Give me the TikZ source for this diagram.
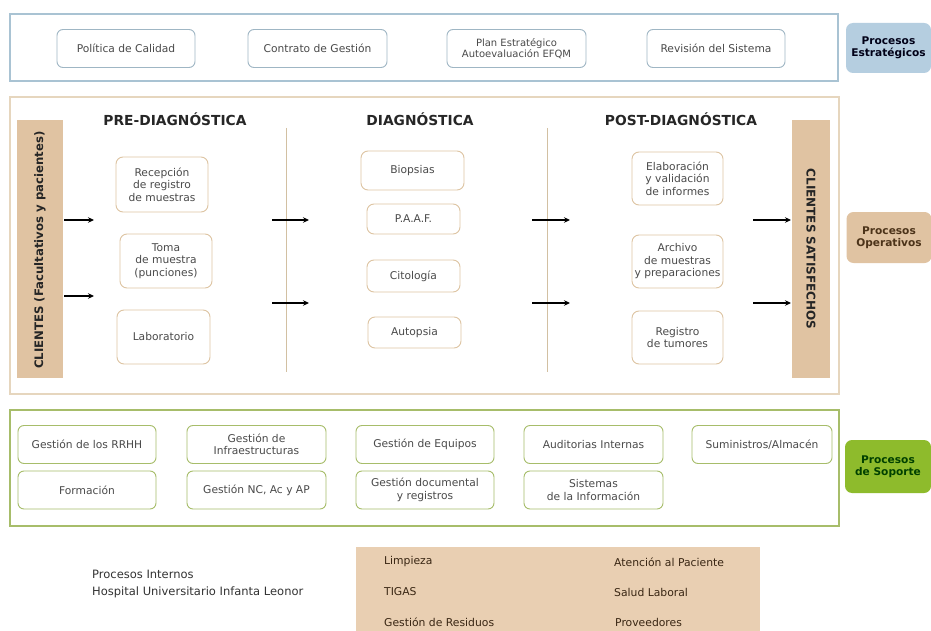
\documentclass[tikz,border=0pt]{standalone}
\usepackage{fontspec}
\setmainfont{DejaVu Sans}
\usetikzlibrary{arrows.meta}
\definecolor{txt}{HTML}{4A4A4A}
\definecolor{topln}{HTML}{A9C3D3}
\definecolor{tboxln}{HTML}{9FB6C4}
\definecolor{opln}{HTML}{E6D6BE}
\definecolor{oboxln}{HTML}{DDC4A2}
\definecolor{supln}{HTML}{A7BD6A}
\definecolor{tan}{HTML}{E0C3A2}
\definecolor{tanlt}{HTML}{E9CFB2}
\definecolor{bluebadge}{HTML}{B5CEE0}
\definecolor{greenbadge}{HTML}{8EBB2C}
\definecolor{sepln}{HTML}{D2C0A2}
\tikzset{
  base/.style={font=\fontsize{10.7}{12.5}\selectfont, text=txt, align=center, inner sep=0pt},
  tbox/.style={base, draw=tboxln, line width=0.9pt, rounded corners=6pt, minimum width=138pt, minimum height=38pt},
  obox/.style={base, draw=oboxln, line width=0.9pt, rounded corners=7pt},
  sbox/.style={base, draw=supln, line width=0.9pt, rounded corners=6pt, minimum width=138pt, minimum height=38pt},
  badge/.style={rounded corners=7pt, align=center, inner sep=0pt, font=\bfseries\fontsize{10.6}{12.5}\selectfont},
  hdr/.style={font=\bfseries\fontsize{13.8}{15}\selectfont, text=black!85, inner sep=0pt},
  flow/.style={-{Stealth[length=6pt,width=5.5pt]}, line width=1.1pt, black},
  plain/.style={font=\fontsize{10.8}{12}\selectfont, text=black!70!brown, inner sep=0pt, anchor=west},
}
\begin{document}
\begin{tikzpicture}[x=1pt,y=-1pt]
\useasboundingbox[fill=white] (0,0) rectangle (931,631);

% ---------- Estrategicos ----------
\draw[topln, line width=1.3pt] (10,14) rectangle (838,81);
\node[tbox] (pol) at (126,48.5) {Política de Calidad};
\node[tbox, minimum width=139pt] (con) at (317.5,48.5) {Contrato de Gestión};
\node[tbox, minimum width=139pt, font=\fontsize{10}{11.5}\selectfont] (plan) at (516.5,48.5) {Plan Estratégico\\Autoevaluación EFQM};
\node[tbox] (rev) at (716,48.5) {Revisión del Sistema};
\node[badge, fill=bluebadge, text=black!70!blue!30!black, minimum width=85pt, minimum height=50pt] (bE) at (888.5,48) {Procesos\\Estratégicos};

% ---------- Operativos ----------
\draw[opln, line width=1.5pt] (10,97) rectangle (839,394);
\fill[tan] (17,120) rectangle (63,378);
\fill[tan] (792,120) rectangle (830,378);
\node[rotate=90, font=\bfseries\fontsize{11.7}{13}\selectfont, text=black!85, inner sep=0pt] (cli) at (40,250) {CLIENTES (Facultativos y pacientes)};
\node[rotate=-90, font=\bfseries\fontsize{12}{13}\selectfont, text=black!85, inner sep=0pt] (sat) at (811,249) {CLIENTES SATISFECHOS};
\node[badge, fill=tan, text=black!60!brown, minimum width=85pt, minimum height=51pt] (bO) at (889,237.5) {Procesos\\Operativos};

\node[hdr] (hpre) at (175,119) {PRE-DIAGNÓSTICA};
\node[hdr] (hdia) at (420,119) {DIAGNÓSTICA};
\node[hdr] (hpost) at (681,119) {POST-DIAGNÓSTICA};

\coordinate (s1a) at (286,128); \coordinate (s1b) at (286,372);
\coordinate (s2a) at (547,128); \coordinate (s2b) at (547,372);
\draw[sepln, line width=1pt] (s1a) -- (s1b);
\draw[sepln, line width=1pt] (s2a) -- (s2b);

\node[obox, minimum width=92pt, minimum height=55pt] (rec) at (162,184.5) {Recepción\\de registro\\de muestras};
\node[obox, minimum width=92pt, minimum height=54pt] (tom) at (166,261) {Toma\\de muestra\\(punciones)};
\node[obox, minimum width=93pt, minimum height=54pt] (lab) at (163.5,337) {Laboratorio};

\node[obox, minimum width=103pt, minimum height=39pt] (bio) at (412.5,170.5) {Biopsias};
\node[obox, minimum width=93pt, minimum height=30pt] (paaf) at (413.5,219) {P.A.A.F.};
\node[obox, minimum width=93pt, minimum height=32pt] (cit) at (413.5,276) {Citología};
\node[obox, minimum width=93pt, minimum height=31pt] (aut) at (414.5,332.5) {Autopsia};

\node[obox, minimum width=91pt, minimum height=53pt] (ela) at (677.5,178.5) {Elaboración\\y validación\\de informes};
\node[obox, minimum width=91pt, minimum height=53pt] (arc) at (677.5,261.5) {Archivo\\de muestras\\y preparaciones};
\node[obox, minimum width=91pt, minimum height=53pt] (reg) at (677.5,337.5) {Registro\\de tumores};

\coordinate (a1s) at (64,220);  \coordinate (a1e) at (94,220);
\coordinate (a2s) at (64,296);  \coordinate (a2e) at (94,296);
\coordinate (a3s) at (272,220); \coordinate (a3e) at (309,220);
\coordinate (a4s) at (272,303); \coordinate (a4e) at (309,303);
\coordinate (a5s) at (532,220); \coordinate (a5e) at (570,220);
\coordinate (a6s) at (532,303); \coordinate (a6e) at (570,303);
\coordinate (a7s) at (753,220); \coordinate (a7e) at (791,220);
\coordinate (a8s) at (753,303); \coordinate (a8e) at (791,303);
\foreach \i in {1,...,8} { \draw[flow] (a\i s) -- (a\i e); }

% ---------- Soporte ----------
\draw[supln, line width=1.5pt] (10,410) rectangle (839,526);
\node[sbox] (rrhh) at (87,444.5) {Gestión de los RRHH};
\node[sbox, minimum width=139pt] (inf) at (256.5,444.5) {Gestión de\\Infraestructuras};
\node[sbox] (equ) at (425,444.5) {Gestión de Equipos};
\node[sbox, minimum width=139pt] (audi) at (593.5,444.5) {Auditorias Internas};
\node[sbox, minimum width=140pt] (sum) at (762,444.5) {Suministros/Almacén};
\node[sbox] (for) at (87,490) {Formación};
\node[sbox, minimum width=139pt] (nc) at (256.5,490) {Gestión NC, Ac y AP};
\node[sbox] (doc) at (425,490) {Gestión documental\\y registros};
\node[sbox, minimum width=139pt] (sis) at (593.5,490) {Sistemas\\de la Información};
\node[badge, fill=greenbadge, text=black!75!green, minimum width=86pt, minimum height=53pt] (bS) at (888,466.5) {Procesos\\de Soporte};

% ---------- Pie ----------
\node[font=\fontsize{11.5}{16.5}\selectfont, text=black!80, align=left, anchor=north west, inner sep=0pt] (hosp) at (92,570) {Procesos Internos\\Hospital Universitario Infanta Leonor};
\fill[tanlt] (356,547) rectangle (760,631);
\node[plain] (l1) at (384,562) {Limpieza};
\node[plain] (l2) at (384,592) {TIGAS};
\node[plain] (l3) at (384,622) {Gestión de Residuos};
\node[plain] (r1) at (614,562) {Atención al Paciente};
\node[plain] (r2) at (614,592) {Salud Laboral};
\node[plain] (r3) at (615,622) {Proveedores};
\end{tikzpicture}
\end{document}
